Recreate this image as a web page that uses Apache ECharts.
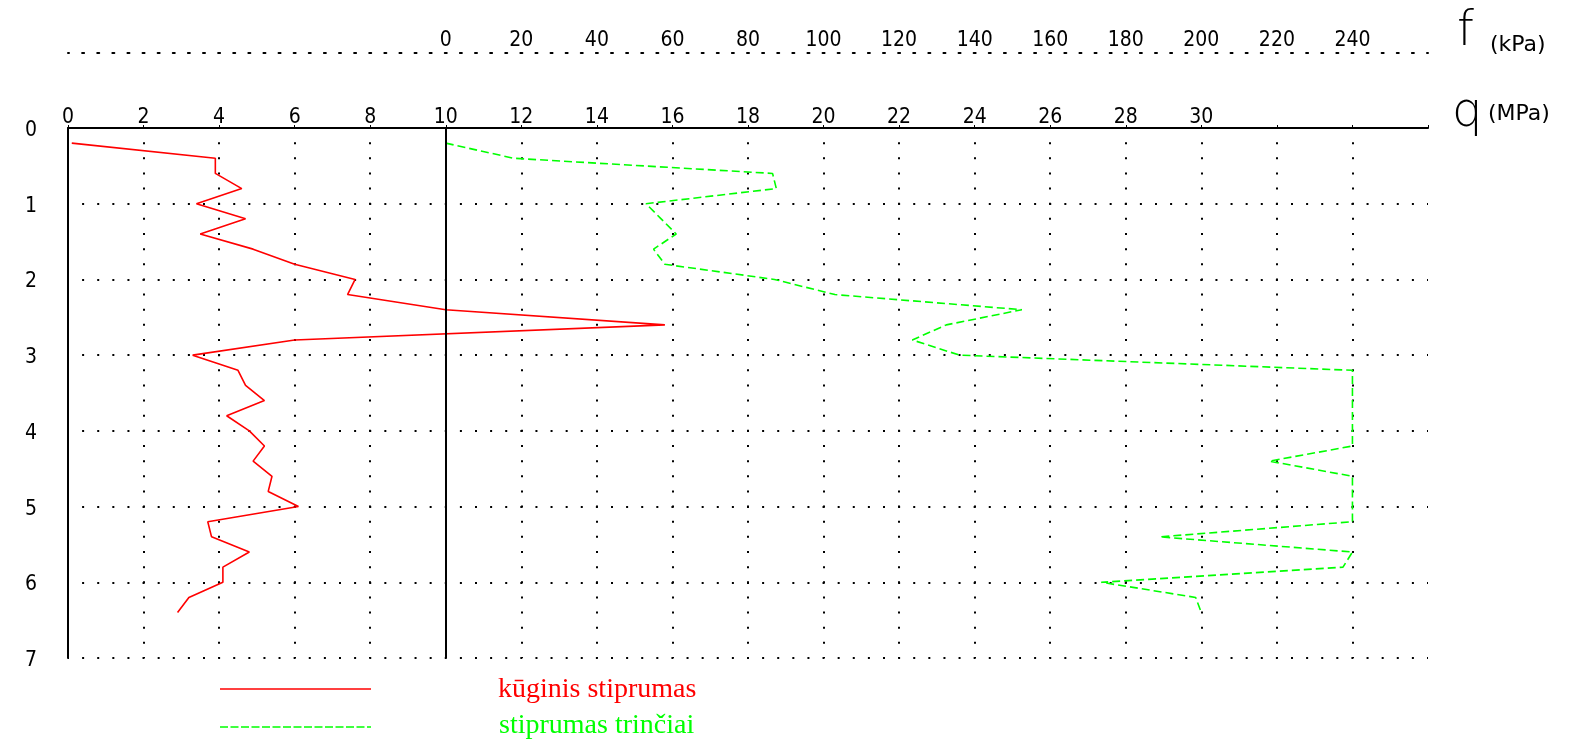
<!DOCTYPE html>
<html>
<head>
<meta charset="utf-8">
<title>kūginis stiprumas / stiprumas trinčiai</title>
<script src="https://cdn.jsdelivr.net/npm/echarts@6/dist/echarts.min.js"></script>
<style>
  html, body { margin: 0; padding: 0; background: #ffffff; }
  #chart { width: 1576px; height: 742px; }
</style>
</head>
<body>
<div id="chart"></div>
<script>
// Depth of each reading (m), top to bottom
const depths = [0.2, 0.4, 0.6, 0.8, 1.0, 1.2, 1.4, 1.6, 1.8, 2.0, 2.2, 2.4, 2.6, 2.8, 3.0, 3.2,
                3.4, 3.6, 3.8, 4.0, 4.2, 4.4, 4.6, 4.8, 5.0, 5.2, 5.4, 5.6, 5.8, 6.0, 6.2, 6.4];
// Cone resistance q (MPa)
const coneQ = [0.1, 3.9, 3.9, 4.6, 3.4, 4.7, 3.5, 4.9, 6.0, 7.6, 7.4, 10.0, 15.8, 6.0, 3.3, 4.5,
               4.7, 5.2, 4.2, 4.8, 5.2, 4.9, 5.4, 5.3, 6.1, 3.7, 3.8, 4.8, 4.1, 4.1, 3.2, 2.9];
// Sleeve friction f (kPa)
const frictionF = [0, 18, 86.5, 87.5, 53, 57, 61, 55, 58, 87, 103, 152.5, 132.5, 123.5, 136, 240,
                   240, 240, 240, 240, 240, 218, 240, 240, 240, 240, 189, 240, 237.5, 173.5, 198.5, 200];

// Tick labels
const qTickLabels = ['0', '2', '4', '6', '8', '10', '12', '14', '16', '18', '20', '22', '24', '26', '28', '30'];
const fTickLabels = ['0', '20', '40', '60', '80', '100', '120', '140', '160', '180', '200', '220', '240'];
const depthLabels = ['0', '1', '2', '3', '4', '5', '6', '7'];

const seriesNames = ['kūginis stiprumas', 'stiprumas trinčiai'];

const W = 1576, H = 742;
const grid = { left: 68, right: 148, top: 128, bottom: 84 };
const gw = W - grid.left - grid.right;
const gh = H - grid.top - grid.bottom;
// dot spacing: 0.4 MPa across, 0.2 m down
const dotX = gw / 90;
const dotY = gh / 35;

const tickFont = 'DejaVu Sans Condensed, DejaVu Sans, sans-serif';
const RED = '#ff0000';
const GREEN = '#00ff00';

const conePoints = depths.map((d, i) => [coneQ[i], d]);
const frictionPoints = depths.map((d, i) => [frictionF[i], d]);

function lookup(list, v) {
  const s = String(Math.round(v));
  return list.indexOf(s) >= 0 ? s : '';
}

const chart = echarts.init(document.getElementById('chart'), null, { renderer: 'canvas' });

chart.setOption({
  animation: false,
  backgroundColor: '#ffffff',
  grid: { left: grid.left, right: grid.right, top: grid.top, bottom: grid.bottom },
  xAxis: [
    {
      type: 'value',
      position: 'top',
      min: 0, max: 36, interval: 2,
      axisLine: { show: true, onZero: false, lineStyle: { color: '#000', width: 2 } },
      axisTick: { show: true, inside: false, length: 3, lineStyle: { color: '#000', width: 1 } },
      axisLabel: {
        show: true, margin: 0, color: '#000',
        fontFamily: tickFont, fontSize: 21,
        formatter: v => lookup(qTickLabels, v)
      },
      splitLine: {
        show: true, showMinLine: false, showMaxLine: false,
        lineStyle: { color: '#000', width: 2, type: [2, dotY - 2], dashOffset: 1 }
      }
    },
    {
      type: 'value',
      position: 'top',
      offset: 75,
      min: -100, max: 260, interval: 20,
      axisLine: { show: true, onZero: false, lineStyle: { color: '#000', width: 2, type: [2, dotX - 2], dashOffset: 1 } },
      axisTick: { show: false },
      axisLabel: {
        show: true, margin: 2, color: '#000',
        fontFamily: tickFont, fontSize: 21,
        formatter: v => lookup(fTickLabels, v)
      },
      splitLine: { show: false }
    }
  ],
  yAxis: {
    type: 'value',
    inverse: true,
    min: 0, max: 7, interval: 1,
    axisLine: { show: true, onZero: false, lineStyle: { color: '#000', width: 2 } },
    axisTick: { show: false },
    axisLabel: {
      show: true, margin: 31, color: '#000',
      fontFamily: tickFont, fontSize: 21,
      verticalAlign: 'top', lineHeight: 5,
      formatter: v => lookup(depthLabels, v)
    },
    splitLine: {
      show: true,
      lineStyle: { color: '#000', width: 2, type: [2, dotX - 2], dashOffset: 1 }
    }
  },
  series: [
    {
      name: seriesNames[0],
      type: 'line',
      xAxisIndex: 0,
      data: conePoints,
      showSymbol: false,
      lineStyle: { color: RED, width: 1.6 },
      z: 4,
      markLine: {
        silent: true,
        symbol: 'none',
        label: { show: false },
        lineStyle: { color: '#000', width: 2, type: 'solid' },
        data: [{ xAxis: 10 }]
      }
    },
    {
      name: seriesNames[1],
      type: 'line',
      xAxisIndex: 1,
      data: frictionPoints,
      showSymbol: false,
      lineStyle: { color: GREEN, width: 1.6, type: [8, 4] },
      z: 4
    }
  ],
  graphic: [
    // axis titles
    { type: 'text', left: 1457, top: 9, style: { text: 'f', font: '200 48px "DejaVu Sans", sans-serif', fill: '#000' } },
    { type: 'text', left: 1490, top: 34, style: { text: '(kPa)', font: '22px "DejaVu Sans", sans-serif', fill: '#000' } },
    { type: 'text', left: 1452, top: 90, style: { text: 'q', font: '200 48px "DejaVu Sans", sans-serif', fill: '#000' } },
    { type: 'text', left: 1488, top: 103, style: { text: '(MPa)', font: '22px "DejaVu Sans", sans-serif', fill: '#000' } },
    // legend
    { type: 'line', shape: { x1: 220, y1: 689, x2: 371, y2: 689 }, style: { stroke: RED, lineWidth: 1.6 } },
    { type: 'text', left: 498, top: 676, style: { text: seriesNames[0], font: '28px "Liberation Serif", "Times New Roman", serif', fill: RED } },
    { type: 'line', shape: { x1: 220, y1: 727, x2: 371, y2: 727 }, style: { stroke: GREEN, lineWidth: 1.6, lineDash: [8, 2.5] } },
    { type: 'text', left: 499, top: 712, style: { text: seriesNames[1], font: '28px "Liberation Serif", "Times New Roman", serif', fill: GREEN } }
  ]
});
</script>
</body>
</html>
